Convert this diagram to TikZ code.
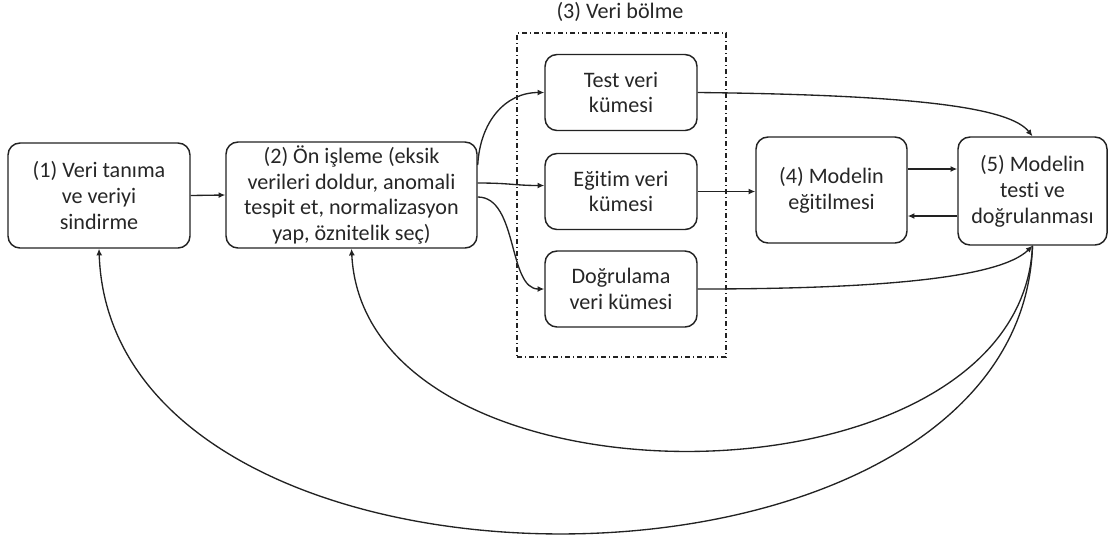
\documentclass[tikz,border=0pt]{standalone}
\usepackage{fontspec}
\setmainfont{Carlito}[Ligatures=NoCommon]
\usetikzlibrary{arrows.meta,calc}
\definecolor{ink}{HTML}{222222}
\definecolor{txt}{HTML}{262626}
\begin{document}
\begin{tikzpicture}[x=0.75pt,y=-0.75pt,
  box/.style={draw=ink,line width=1.1pt,rounded corners=9pt,align=center,
    inner sep=0pt,text=txt,font=\fontsize{16.6}{19.4}\selectfont},
  setbox/.style={box,minimum width=114pt,minimum height=57pt},
  frame/.style={draw=ink,line width=0.9pt,dash pattern=on 4pt off 2pt on 1pt off 2pt,
    minimum width=156.75pt,minimum height=243pt,inner sep=0pt},
  arr/.style={-{Latex[length=5pt,width=4.5pt]},line width=1pt,draw=ink},
]
\useasboundingbox (0,0) rectangle (1109,540);

% main pipeline boxes
\node[box,minimum width=136.5pt,minimum height=78.75pt] (b1) at (99,195.5)
  {(1) Veri tanıma\\ve veriyi\\sindirme};
\node[box,minimum width=188.25pt,minimum height=79.5pt] (b2) at (351.5,195)
  {(2) Ön işleme (eksik\\verileri doldur, anomali\\tespit et, normalizasyon\\yap, öznitelik seç)};
\node[box,minimum width=113.25pt,minimum height=79.5pt] (b4) at (831.5,190)
  {(4) Modelin\\eğitilmesi};
\node[box,minimum width=111.75pt,minimum height=81pt] (b5) at (1032.5,191)
  {(5) Modelin\\testi ve\\doğrulanması};

% data split group
\node[frame] (split) at (621.5,195) {};
\node[text=txt,font=\fontsize{16.6}{19.4}\selectfont] (title) at (620,12) {(3) Veri bölme};
\node[setbox] (test) at (621,92.5) {Test veri\\kümesi};
\node[setbox] (egit) at (621,191.5) {Eğitim veri\\kümesi};
\node[setbox] (dog) at (621,289) {Doğrulama\\veri kümesi};

% forward flow
\draw[arr] (b1.east) -- (b2.west);
\draw[arr] ($(b2.east)+(0,-30)$) .. controls (480,122) and (505,92.5) .. (test.west);
\draw[arr] ($(b2.east)+(0,-12)$) .. controls (510,183) and (515,185.5) .. ($(egit.west)+(0,-6)$);
\draw[arr] ($(b2.east)+(0,2)$) .. controls (518,197) and (508,289) .. (dog.west);
\draw[arr] (egit.east) -- (b4.west |- egit.east);
\draw[arr] ($(b4.east)+(0,-21)$) -- ($(b5.west)+(0,-22)$);
\draw[arr] ($(b5.west)+(0,25)$) -- ($(b4.east)+(0,26)$);
\draw[arr] (test.east) .. controls (920,95) and (1010,108) .. (b5.north);
\draw[arr] (dog.east) .. controls (880,289) and (1000,278) .. (b5.south);

% feedback loops
\draw[arr] (b5.south) .. controls (1020,517) and (365,520) .. (b2.south);
\draw[arr] (b5.south) .. controls (1020,627) and (112,630) .. (b1.south);
\end{tikzpicture}
\end{document}
